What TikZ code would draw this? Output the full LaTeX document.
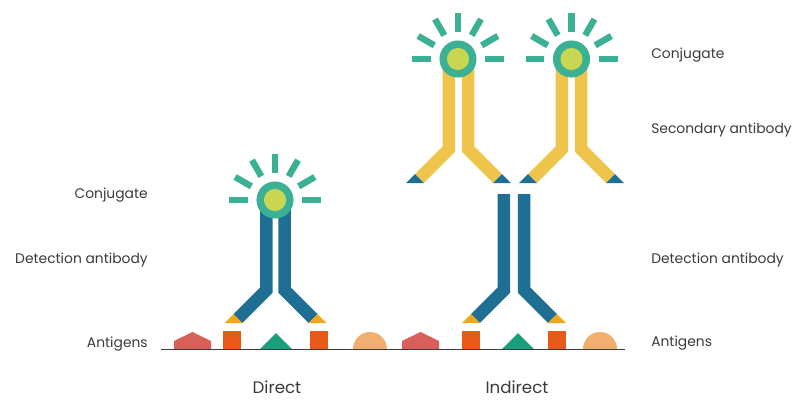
\documentclass[tikz,border=0pt]{standalone}
\usepackage{fontspec}
\setmainfont{Poppins}
\usetikzlibrary{calc}

\definecolor{abblue}{HTML}{1F6E93}
\definecolor{abyellow}{HTML}{EEC54A}
\definecolor{tipyellow}{HTML}{F2A71B}
\definecolor{raygreen}{HTML}{3AB094}
\definecolor{coregreen}{HTML}{C9D651}
\definecolor{agred}{HTML}{D9605A}
\definecolor{agorange}{HTML}{E85A17}
\definecolor{aggreen}{HTML}{1C9E7E}
\definecolor{agpeach}{HTML}{F2AE6E}
\definecolor{txt}{HTML}{3A3A3A}

\tikzset{
  lab/.style={font=\fontsize{10.4pt}{12pt}\selectfont, text=txt, inner sep=0pt},
  title/.style={font=\fontsize{12.5pt}{14pt}\selectfont, text=txt, inner sep=0pt},
  ray/.style={draw=raygreen, line width=4.8pt, line cap=butt},
  surface/.style={draw=txt, line width=1.1pt},
}

% Y-shaped antibody: centre x, half gap, top y, bend y, end y, body colour, tip colour
\newcommand\antibody[7]{%
  \foreach \s in {-1,1}{%
    \fill[#6] ({#1+\s*(#2)},#3) -- ({#1+\s*(#2+12.5)},#3)
      -- ({#1+\s*(#2+12.5)},{#4-2.6})
      -- ({#1+\s*(#2)+\s*(#5-#4-2.6)+\s*8.84},{#5-8.84})
      -- ({#1+\s*(#2)+\s*(#5-#4-2.6)},#5)
      -- ({#1+\s*(#2)},{#4+2.6}) -- cycle;
    \fill[#7] ({#1+\s*(#2+12.5)+\s*(#5-#4+2.6)},#5)
      -- ({#1+\s*(#2)+\s*(#5-#4-2.6)},#5)
      -- ({#1+\s*(#2)+\s*(#5-#4-2.6)+\s*8.84},{#5-8.84}) -- cycle;
  }%
}

% Conjugate: glowing ring with rays, centred on a named coordinate
\newcommand\conjugate[1]{%
  \foreach \a in {0,30,...,180}{%
    \draw[ray] ($(#1)+(\a:20.5pt)$) -- ($(#1)+(\a:34.5pt)$);
  }%
  \fill[raygreen] (#1) circle[radius=13.9pt];
  \fill[coregreen] (#1) circle[radius=8.3pt];
}

% Antigen shapes sitting on the surface line (base y = 349)
\newcommand\pentagon[1]{\fill[agred] (#1,349) -- (#1,341) -- ({#1+18.5},332) -- ({#1+37},341) -- ({#1+37},349) -- cycle;}
\newcommand\epitope[1]{\fill[agorange] (#1,331) rectangle ({#1+18},349);}
\newcommand\triang[1]{\fill[aggreen] (#1,349) -- ({#1+16},333) -- ({#1+32},349) -- cycle;}
\newcommand\dome[1]{\fill[agpeach] ({#1+34},349) arc[start angle=0, end angle=180, radius=12.75pt] -- cycle;}

\begin{document}
\begin{tikzpicture}[x=0.75pt, y=-0.75pt]
  \useasboundingbox (0,0) rectangle (794,400);

  % ---------- direct detection ----------
  \pentagon{174}
  \epitope{223}
  \triang{260}
  \epitope{310}
  \dome{353}
  \antibody{275.5}{2.8}{200}{290}{323}{abblue}{tipyellow}
  \coordinate (dc) at (275,200);
  \conjugate{dc}

  % ---------- indirect detection ----------
  \pentagon{402}
  \epitope{462}
  \triang{502}
  \epitope{548}
  \dome{583}
  \antibody{514}{3.8}{194}{290}{323}{abblue}{tipyellow}

  \antibody{458.5}{3.3}{59}{149}{183}{abyellow}{abblue}
  \coordinate (sc1) at (458,59);
  \conjugate{sc1}
  \antibody{571.5}{3.3}{59}{149}{183}{abyellow}{abblue}
  \coordinate (sc2) at (571.5,59);
  \conjugate{sc2}

  % surface
  \coordinate (sl) at (161,349.5);
  \coordinate (sr) at (625,349.5);
  \draw[surface] (sl) -- (sr);

  % ---------- labels ----------
  \node[lab, anchor=east] (dconj) at (148,195) {Conjugate};
  \node[lab, anchor=east] (ddet) at (148,260) {Detection antibody};
  \node[lab, anchor=east] (dant) at (148,344) {Antigens};
  \node[lab, anchor=west] (iconj) at (651,55) {Conjugate};
  \node[lab, anchor=west] (isec) at (651,130) {Secondary antibody};
  \node[lab, anchor=west] (idet) at (651,260) {Detection antibody};
  \node[lab, anchor=west] (iant) at (651,343) {Antigens};
  \node[title] (direct) at (277,387) {Direct};
  \node[title] (indirect) at (517,387) {Indirect};
\end{tikzpicture}
\end{document}
